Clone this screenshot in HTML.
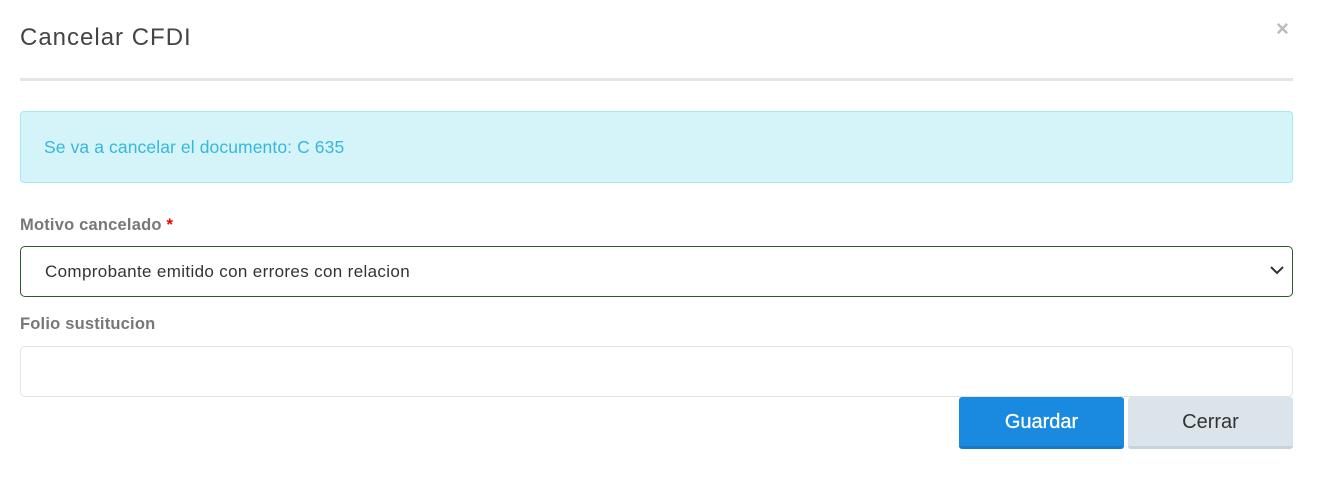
<!DOCTYPE html>
<html><head><style>
body{margin:0;width:1317px;height:479px;background:#fff;font-family:"Liberation Sans",sans-serif;position:relative;overflow:hidden}
div{position:absolute;box-sizing:border-box}
</style></head><body>
<div style="left:20px;top:24px;font-size:24px;color:#444;letter-spacing:1px">Cancelar CFDI</div>
<div style="left:1276px;top:16px;font-size:22px;color:#bbb;font-weight:bold">×</div>
<div style="left:20px;top:78px;width:1273px;height:3px;background:#e5e5e5"></div>
<div style="left:20px;top:111px;width:1273px;height:72px;background:#d5f4fa;border:1px solid #a6e9f5;border-radius:4px"></div>
<div style="left:44px;top:137px;font-size:17.5px;color:#35b8dc;letter-spacing:0.1px">Se va a cancelar el documento: C 635</div>
<div style="left:20px;top:216px;font-size:16.5px;font-weight:bold;color:#777;letter-spacing:0.2px">Motivo cancelado <span style="color:#e00">*</span></div>
<div style="left:20px;top:246px;width:1273px;height:51px;border:1px solid #2d5a2d;border-radius:5px"></div>
<div style="left:45px;top:262px;font-size:17px;color:#333;letter-spacing:0.35px">Comprobante emitido con errores con relacion</div>
<svg style="position:absolute;left:1270px;top:265px" width="14" height="10"><path d="M1 2 L7 8 L13 2" stroke="#333" stroke-width="2" fill="none"/></svg>
<div style="left:20px;top:315px;font-size:16.5px;font-weight:bold;color:#777;letter-spacing:0.2px">Folio sustitucion</div>
<div style="left:20px;top:346px;width:1273px;height:51px;border:1px solid #e3e3e3;border-radius:5px"></div>
<div style="left:959px;top:397px;width:165px;height:52px;background:#1a8ae0;border-bottom:3px solid #167ac6;border-radius:3px;color:#fff;font-size:20px;text-align:center;line-height:50px;-webkit-text-stroke:0.3px #fff">Guardar</div>
<div style="left:1128px;top:397px;width:165px;height:52px;background:#dae4ea;border-bottom:3px solid #c5d3da;border-radius:3px;color:#333;font-size:20px;text-align:center;line-height:50px">Cerrar</div>
</body></html>
